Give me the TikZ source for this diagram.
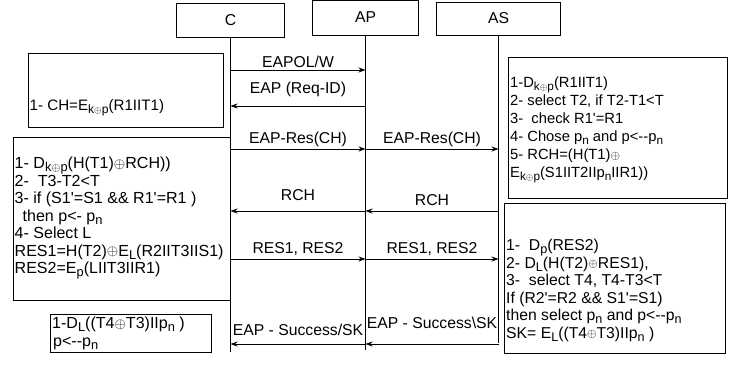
\documentclass[tikz,border=0pt]{standalone}
\usepackage{fontspec}
\setmainfont{Liberation Sans}[Ligatures=TeXOff]
\usetikzlibrary{arrows.meta}
\newcommand{\xo}{\raisebox{0.3bp}{\scalebox{0.85}{$\oplus$}}}
\newcommand{\subtxt}[1]{\raisebox{-3bp}[\height][0pt]{\scalebox{0.8}{#1}}}
\tikzset{every node/.style={font=\fontsize{15.8}{17.5}\selectfont},
  actor/.style={draw,fill=white,line width=0.8bp,inner sep=0},
  lifeline/.style={line width=0.8bp},
  msg/.style={line width=0.8bp,-{Stealth[length=7bp,width=5bp]}},
  msglabel/.style={inner sep=0,text height=11bp,text depth=3bp},
  note/.style={draw,line width=0.8bp,inner sep=0,anchor=north west},
  noteline/.style={inner sep=0,anchor=base west,text height=11.5bp,text depth=3.5bp,
    font=\fontsize{#1}{17.5}\selectfont},
  noteline/.default=16.1}

\begin{document}
\begin{tikzpicture}[x=1bp,y=-1bp]
  \path[use as bounding box,fill=white] (0,0) rectangle (745,364);
  % participants and lifelines
  \node[actor,minimum width=108bp,minimum height=34bp] (C) at (230.5,20) {C};
  \node[actor,minimum width=106bp,minimum height=35bp] (AP) at (365.5,17.5) {AP};
  \node[actor,minimum width=124bp,minimum height=33bp] (AS) at (498.5,18.5) {AS};
  \coordinate (Cend) at (230.5,352);
  \coordinate (APend) at (365.5,350);
  \coordinate (ASend) at (498.5,343);
  \draw[lifeline] (C.south) -- (Cend);
  \draw[lifeline] (AP.south) -- (APend);
  \draw[lifeline] (AS.south) -- (ASend);
  % messages
  \foreach \n/\y in {1/70,2/106,3/149,4/211,5/259,6/344}
    \coordinate (row\n) at (0,\y);
  \foreach \a/\b/\n/\dy/\lab in {C/AP/1/6.5/{EAPOL/W},AP/C/2/16.5/{EAP (Req-ID)},
      C/AP/3/9.5/{EAP-Res(CH)},AP/AS/3/9.5/{EAP-Res(CH)},
      AP/C/4/14.5/{RCH},AS/AP/4/9.5/{RCH},
      C/AP/5/9.5/{RES1, RES2},AP/AS/5/9.5/{RES1, RES2},
      AP/C/6/12.5/{EAP - Success/SK},AS/AP/6/19.5/{EAP - Success\textbackslash SK}}
    \draw[msg] (\a.south |- row\n) -- node[msglabel,yshift=\dy bp] {\lab} (\b.south |- row\n);
  % computation boxes
  \node[note,minimum width=195bp,minimum height=74bp] (cbox1) at (28,53) {};
  \node[noteline=15.2] (c1-1) at (29.5,110.5) {1- CH=E\subtxt{k\xo p}(R1IIT1)};
  \node[note,minimum width=219bp,minimum height=141bp] (sbox1) at (508,57) {};
  \foreach \ltext [count=\i] in {1-D\subtxt{k\xo p}(R1IIT1),{2- select T2, if T2-T1<T},
      3-~ check R1'=R1,4- Chose p\subtxt{n} and p<--p\subtxt{n},5- RCH=(H(T1)\xo,
      E\subtxt{k\xo p}(S1IIT2IIp\subtxt{n}IIR1))}
    \node[noteline=14.8] (s1-\i) at (510,{87.5+18*(\i-1)}) {\ltext};
  \node[note,minimum width=217bp,minimum height=163bp] (cbox2) at (13,137) {};
  \foreach \ltext [count=\i] in {1- D\subtxt{k\xo p}(H(T1)\xo RCH)),2-~ T3-T2<T,
      3- if (S1'=S1 \&\& R1'=R1 ),\hspace*{8bp}then p<- p\subtxt{n},4- Select L,
      RES1=H(T2)\xo E\subtxt{L}(R2IIT3IIS1),RES2=E\subtxt{p}(LIIT3IIR1)}
    \node[noteline] (c2-\i) at (14.5,{168.5+17.5*(\i-1)}) {\ltext};
  \node[note,minimum width=221bp,minimum height=150bp] (sbox2) at (504,203) {};
  \foreach \ltext [count=\i] in {1-~ D\subtxt{p}(RES2),{2- D\subtxt{L}(H(T2)\xo RES1),},
      {3-~ select T4, T4-T3<T},If (R2'=R2 \&\& S1'=S1),
      then select p\subtxt{n} and p<--p\subtxt{n},SK= E\subtxt{L}((T4\xo T3)IIp\subtxt{n} )}
    \node[noteline=15.8] (s2-\i) at (506,{250.5+17.5*(\i-1)}) {\ltext};
  \node[note,minimum width=161bp,minimum height=38bp] (cbox3) at (50,314) {};
  \node[noteline] (c3-1) at (52,328.5) {1-D\subtxt{L}((T4\xo T3)IIp\subtxt{n} )};
  \node[noteline] (c3-2) at (53,346.5) {p<--p\subtxt{n}};
\end{tikzpicture}
\end{document}
